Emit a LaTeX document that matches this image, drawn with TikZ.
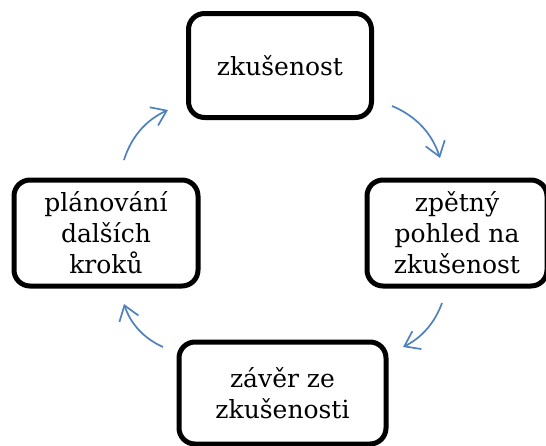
\documentclass[tikz,border=0pt]{standalone}
\usepackage{fontspec}
\setmainfont{DejaVu Serif}
\usetikzlibrary{arrows.meta}
\definecolor{arrblue}{HTML}{4F81BD}
\tikzset{
  stagebox/.style={draw=black, line width=5pt, rounded corners=16pt, align=center,
    font=\fontsize{25pt}{31pt}\selectfont, inner sep=0pt},
  cyclearrow/.style={draw=arrblue, line width=1.7pt,
    -{Straight Barb[length=14pt,width=20pt,line width=1.7pt]}}
}
\begin{document}
\begin{tikzpicture}[x=1pt,y=-1pt]
\useasboundingbox (0,0) rectangle (546,445);
\clip (0,0) rectangle (546,445);
\node[stagebox, minimum width=183pt, minimum height=104pt] (exp) at (280,65.5) {zkušenost};
\node[stagebox, minimum width=180pt, minimum height=106pt] (refl) at (457,233) {zpětný\\pohled na\\zkušenost};
\node[stagebox, minimum width=207pt, minimum height=102pt] (concl) at (282.5,393) {závěr ze\\zkušenosti};
\node[stagebox, minimum width=184pt, minimum height=106pt] (plan) at (106,233) {plánování\\dalších\\kroků};
\coordinate (a1s) at (392,106); \coordinate (a1e) at (440,158);
\coordinate (a2s) at (442,303); \coordinate (a2e) at (403,347);
\coordinate (a3s) at (163,347); \coordinate (a3e) at (124,304);
\coordinate (a4s) at (124,160); \coordinate (a4e) at (168,110);
\draw[cyclearrow] (a1s) .. controls (416,116) and (432,133.3) .. (a1e);
\draw[cyclearrow] (a2s) .. controls (434.7,323) and (421.7,337.7) .. (a2e);
\draw[cyclearrow] (a3s) .. controls (143.7,338.3) and (130.7,324) .. (a3e);
\draw[cyclearrow] (a4s) .. controls (131.3,136.7) and (146,120) .. (a4e);
\end{tikzpicture}
\end{document}
